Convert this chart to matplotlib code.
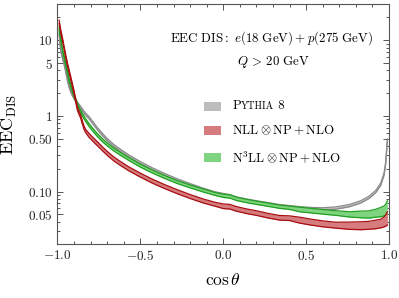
import numpy as np
import matplotlib
matplotlib.use("Agg")
import matplotlib.pyplot as plt
from matplotlib.offsetbox import AnchoredOffsetbox, HPacker, VPacker, TextArea, DrawingArea
from matplotlib.patches import Rectangle

plt.rcParams['mathtext.fontset'] = 'cm'
plt.rcParams['font.family'] = 'serif'
plt.rcParams['font.serif'] = ['cmr10', 'DejaVu Serif']
plt.rcParams['axes.unicode_minus'] = False

# cos(theta) grid shared by all bands
cos_theta = [-0.99, -0.98, -0.97, -0.96, -0.95, -0.94, -0.93, -0.92, -0.91, -0.90,
             -0.89, -0.88, -0.87, -0.86, -0.85, -0.84, -0.83, -0.81, -0.79, -0.76,
             -0.73, -0.70, -0.66, -0.62, -0.57, -0.50, -0.43, -0.36, -0.28, -0.20,
             -0.12, -0.05, 0.00, 0.04, 0.08, 0.14, 0.20, 0.27, 0.34, 0.40,
             0.46, 0.53, 0.60, 0.68, 0.76, 0.83, 0.88, 0.92, 0.95, 0.97,
             0.98, 0.99]

# NLL (x) NP + NLO, central values and relative half-width
nll = [17.5, 13.0, 10.3, 7.9, 6.1, 4.8, 3.9, 3.15, 2.55, 2.05,
       1.6, 1.25, 1.1, 0.98, 0.82, 0.7, 0.63, 0.555, 0.5, 0.43,
       0.37, 0.32, 0.27, 0.235, 0.2, 0.165, 0.138, 0.118, 0.1, 0.086,
       0.075, 0.068, 0.064, 0.063, 0.059, 0.055, 0.052, 0.048, 0.045, 0.0445,
       0.042, 0.0395, 0.0375, 0.036, 0.0355, 0.0355, 0.036, 0.037, 0.038, 0.040,
       0.042, 0.045]
nll_err = [0.05] * 17 + [0.06] * 15 + [0.07] * 8 + [0.09] * 4 + \
          [0.11, 0.12, 0.12, 0.13, 0.13, 0.15, 0.17, 0.20]

# N3LL (x) NP + NLO
n3ll = [14.5, 10.5, 7.4, 6.0, 4.8, 3.8, 3.0, 2.5, 2.15, 1.86,
        1.63, 1.43, 1.27, 1.14, 1.04, 0.95, 0.88, 0.76, 0.67, 0.56,
        0.48, 0.42, 0.36, 0.315, 0.27, 0.22, 0.185, 0.158, 0.134, 0.117,
        0.103, 0.093, 0.088, 0.086, 0.080, 0.075, 0.071, 0.067, 0.063, 0.061,
        0.058, 0.056, 0.054, 0.052, 0.050, 0.050, 0.050, 0.052, 0.054, 0.056,
        0.058, 0.063]
n3ll_err = [0.04] * 17 + [0.045] * 15 + [0.05] * 8 + [0.07] * 4 + \
           [0.08, 0.10, 0.11, 0.12, 0.14, 0.15, 0.17, 0.20]

# Pythia 8
pythia = [12.5, 7.2, 5.9, 4.9, 3.9, 3.0, 2.45, 2.12, 1.9, 1.74,
          1.6, 1.48, 1.38, 1.29, 1.2, 1.12, 1.05, 0.95, 0.83, 0.68,
          0.57, 0.485, 0.405, 0.35, 0.295, 0.24, 0.2, 0.17, 0.143, 0.123,
          0.107, 0.096, 0.091, 0.088, 0.082, 0.077, 0.073, 0.069, 0.065, 0.063,
          0.061, 0.0595, 0.059, 0.0605, 0.065, 0.073, 0.084, 0.1, 0.125, 0.17,
          0.24, 0.48]
pythia_err = [0.035] * 52

xticks = [-1.0, -0.5, 0.0, 0.5, 1.0]
xtick_labels = ['$-1.0$', '$-0.5$', '$0.0$', '$0.5$', '$1.0$']
yticks = [0.05, 0.10, 0.50, 1, 5, 10]
ytick_labels = ['$0.05$', '$0.10$', '$0.50$', '$1$', '$5$', '$10$']

fig = plt.figure(figsize=(3.99, 2.98), dpi=100)
ax = fig.add_axes([0.144, 0.180, 0.831, 0.806])

x = np.array(cos_theta)


def band(c, err, fill, edge, z):
    c = np.array(c)
    e = np.array(err)
    lo, hi = c * (1 - e), c * (1 + e)
    ax.fill_between(x, lo, hi, color=fill, lw=0, zorder=z)
    ax.plot(x, lo, color=edge, lw=0.9, zorder=z)
    ax.plot(x, hi, color=edge, lw=0.9, zorder=z)


band(pythia, pythia_err, '#bdbdbd', '#8a8a8a', 2)
band(n3ll, n3ll_err, '#7fd47f', '#1fa01f', 3)
band(nll, nll_err, '#d67c7f', '#a80d10', 4)

ax.set_yscale('log')
ax.set_xlim(-1.0, 1.0)
ax.set_ylim(0.02, 30)
ax.set_xticks(xticks, labels=xtick_labels)
ax.set_xticks(np.arange(-1.0, 1.01, 0.1), minor=True)
ax.set_yticks(yticks, labels=ytick_labels)
ax.yaxis.set_minor_locator(matplotlib.ticker.LogLocator(base=10, subs=np.arange(1, 10)))
ax.yaxis.set_minor_formatter(matplotlib.ticker.NullFormatter())
ax.tick_params(which='both', direction='in', top=True, right=True,
               color='#555555', labelsize=9.5, width=0.7, labelcolor='#222222')
ax.tick_params(which='major', length=4)
ax.tick_params(which='minor', length=2.5)
for s in ax.spines.values():
    s.set_color('#555555')
    s.set_linewidth(0.8)

ax.set_xlabel(r'$\cos\theta$', fontsize=12.5, labelpad=6)
ax.set_ylabel(r'$\mathrm{EEC}_{\mathrm{DIS}}$', fontsize=13)
ax.yaxis.set_label_coords(-0.115, 0.5)

ax.text(0.647, 0.86, r'$\mathrm{EEC\ DIS{:}}\ e(18\ \mathrm{GeV}) + p(275\ \mathrm{GeV})$',
        transform=ax.transAxes, ha='center', va='center', fontsize=9.3)
ax.text(0.54, 0.76, r'$Q\,{>}\,20\ \mathrm{GeV}$',
        transform=ax.transAxes, ha='left', va='center', fontsize=9.3)


# legend built by hand for the small-caps Pythia label
def row(color, parts):
    da = DrawingArea(12, 6.5, 0, 0)
    da.add_artist(Rectangle((0, 0), 12, 6.5, fc=color, ec='none'))
    txt = HPacker(children=[TextArea(s, textprops=dict(fontsize=fs, family='cmr10')) for s, fs in parts],
                  align='baseline', pad=0, sep=0)
    return HPacker(children=[da, txt], align='center', pad=0, sep=8)


rows = [
    row('#bdbdbd', [('P', 9.3), ('YTHIA', 7.2), (' 8', 9.3)]),
    row('#d67c7f', [(r'$\mathrm{NLL}\otimes\mathrm{NP}+\mathrm{NLO}$', 9.3)]),
    row('#7fd47f', [(r'$\mathrm{N^3LL}\otimes\mathrm{NP}+\mathrm{NLO}$', 9.3)]),
]
leg = AnchoredOffsetbox(loc='upper left', child=VPacker(children=rows, align='left', pad=0, sep=8.5),
                        bbox_to_anchor=(0.443, 0.6), bbox_transform=ax.transAxes,
                        frameon=False, pad=0, borderpad=0)
ax.add_artist(leg)

fig.savefig('out.png', dpi=100)
